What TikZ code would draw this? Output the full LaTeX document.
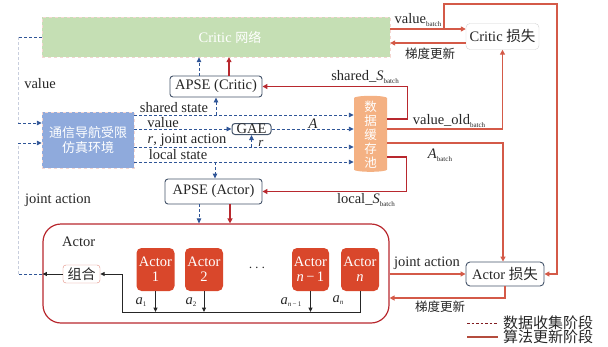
\documentclass[tikz,border=0pt]{standalone}
\usepackage{fontspec}
\setmainfont{Liberation Serif}
\newfontfamily\cjk{Noto Sans CJK SC}
\usetikzlibrary{shapes.geometric,arrows.meta,calc}
\definecolor{bl}{HTML}{2F5597}
\definecolor{faint}{HTML}{C8CEDD}
\definecolor{rA}{HTML}{B8282E}
\definecolor{rB}{HTML}{D45A48}
\definecolor{grn}{HTML}{C5DFB4}
\definecolor{envc}{HTML}{8FAADC}
\definecolor{poolc}{HTML}{F4B183}
\definecolor{actc}{HTML}{D9472B}
\definecolor{slate}{HTML}{44546A}
\newcommand\bsub[1]{\raisebox{-2.5pt}{\fontsize{7}{7}\selectfont #1}}
\begin{document}
\begin{tikzpicture}[x=1pt,y=-1pt,
  every node/.style={font=\fontsize{14.5}{16}\selectfont, inner sep=0pt, text=black!85},
  bdash/.style={draw=bl, line width=0.9pt, dash pattern=on 3pt off 2pt},
  barrow/.style={bdash, -{Triangle[length=5pt,width=4.5pt]}},
  fdash/.style={draw=faint, line width=0.9pt, dash pattern=on 3pt off 2pt},
  redl/.style={draw=rA, line width=1.3pt, -{Triangle[length=5pt,width=5pt]}},
  redm/.style={draw=rB, line width=1.3pt, -{Triangle[length=5pt,width=5pt]}},
  blk/.style={draw=black!85, line width=1pt, -{Triangle[length=4.5pt,width=4pt]}},
  apse/.style={draw=slate, line width=0.9pt, rounded corners=3pt, fill=white},
  actn/.style={fill=actc, rounded corners=5pt, text=white, align=center, minimum width=38pt, minimum height=43pt, font=\fontsize{14.5}{15}\selectfont},
  lossbox/.style={rounded corners=4pt, fill=white, minimum height=26pt},
  zh/.style={font=\cjk\fontsize{12.5}{13}\selectfont},
]
\useasboundingbox (0,0) rectangle (608,346);

% main boxes
\node[fill=grn, draw=rB!25, dashed, minimum width=348pt, minimum height=40pt, text=white] (cn) at (216,37) {\hspace*{28pt}Critic {\cjk\fontsize{13}{14}\selectfont 网络}};
\node[apse, minimum width=92pt, minimum height=21pt] (apsec) at (216,86.5) {APSE (Critic)};
\node[fill=envc, draw=rB!25, dashed, minimum width=92pt, minimum height=56pt, text=white, align=center, font=\cjk\fontsize{13}{14.5}\selectfont] (env) at (88,140) {通信导航受限\\仿真环境};
\node[apse, minimum width=39pt, minimum height=11pt, inner sep=0.5pt, line width=1pt] (gae) at (251.5,129) {GAE};
\node[cylinder, shape border rotate=90, aspect=0.35, fill=poolc, minimum width=33pt, minimum height=76pt, text=white, align=center, font=\cjk\fontsize{12.5}{14}\selectfont] (pool) at (370.5,135) {数\\据\\缓\\存\\池};
\node[lossbox, draw=gray!35, minimum width=73pt] (cl) at (502.5,36.5) {Critic {\cjk 损失}};
\node[lossbox, draw=slate, line width=0.9pt, minimum width=78pt, minimum height=24pt] (al) at (505,274) {Actor {\cjk 损失}};
\node[apse, minimum width=97pt, minimum height=25pt] (apsea) at (213.5,191.5) {APSE (Actor)};
\node[draw=rA, line width=1.2pt, rounded corners=18pt, minimum width=346pt, minimum height=99pt] (ab) at (216,273.5) {};
\node[anchor=west] (ablbl) at (62,242) {Actor};
\node[actn] (a1) at (155.5,269.5) {Actor\\1};
\node[actn] (a2) at (204,269.5) {Actor\\2};
\node[actn, minimum width=37pt] (an1) at (310.5,269.5) {Actor\\\textit{n}\,−\,1};
\node[actn] (an) at (360,269.5) {Actor\\\textit{n}};
\node (dots) at (257,268) {$\cdots$};
\node[draw=rB!70, fill=white, rounded corners=3pt, minimum width=37pt, minimum height=18pt, font=\cjk\fontsize{14}{15}\selectfont] (zhnode) at (81.5,274) {组合};

% left feedback lines
\coordinate (lv1) at (18,37); \coordinate (lv2) at (18,123);
\draw[bdash] (cn.west) -- (lv1);
\draw[fdash] (lv1) -- (lv2);
\draw[barrow] (lv2) -- (env.west |- lv2);
\coordinate (lj1) at (18,274); \coordinate (lj2) at (18,143);
\draw[blk] (zhnode.west) -- (ab.west |- zhnode.west);
\draw[bdash] (ab.west |- zhnode.west) -- (lj1);
\draw[fdash] (lj1) -- (lj2);
\draw[barrow] (lj2) -- (env.west |- lj2);

% env to pool
\draw[barrow] (env.east |- 0,115) -- (pool.west |- 0,115);
\draw[barrow] (apsec.south |- 0,115) -- (apsec.south);
\draw[barrow] (env.east |- gae.west) -- (gae.west);
\draw[barrow] (gae.east) -- (pool.west |- gae.east);
\draw[barrow] (env.east |- 0,147) -- (pool.west |- 0,147);
\draw[barrow] (gae.south |- 0,147) -- (gae.south);
\draw[barrow] (env.east |- 0,162) -- (pool.west |- 0,162);
\coordinate (ls) at (215,162);
\draw[barrow] (ls) -- (apsea.north -| ls);

% APSE outputs
\draw[barrow] ([xshift=-17pt]apsec.north) -- ([xshift=-17pt]apsec.north |- cn.south);
\draw[redl] ([xshift=13pt]apsec.north) -- ([xshift=13pt]apsec.north |- cn.south);
\draw[barrow] ([xshift=-14.5pt]apsea.south) -- ([xshift=-14.5pt]apsea.south |- ab.north);
\draw[redl] ([xshift=16.5pt]apsea.south) -- ([xshift=16.5pt]apsea.south |- ab.north);

% red from pool
\draw[redl] (pool.east |- 0,119) -- ++(20,0) |- (apsec.east);
\draw[redm] (pool.east |- 0,129) -| (cl.south);
\draw[redm] (pool.east |- 0,143) -| ([xshift=-2pt]al.north);
\draw[redl] (pool.east |- 0,157) -- ++(19,0) |- (apsea.east);
\draw[redm] (cn.east |- 0,29) -- (cl.west |- 0,29);
\coordinate (br) at (444,29);
\draw[redm] (br) |- (557,4) |- (al.east);
\draw[redm] (cl.west |- 0,43) -- (cn.east |- 0,43);
\draw[redm] (ab.east |- al.west) -- (al.west);
\draw[redm] (al.south) |- (ab.east |- 0,298);

% black bus
\draw[blk] (a1.south) -- (a1.south |- 0,312);
\draw[blk] (a2.south) -- (a2.south |- 0,312);
\draw[blk] (an1.south) -- (an1.south |- 0,312);
\draw[blk] (an.south) |- (122,312) |- (zhnode.east);

% labels
\node (t1) at (418,20) {value\bsub{batch}};
\node[zh] (t2) at (430,54) {梯度更新};
\node (t3) at (365,77) {shared\_\textit{S}\bsub{batch}};
\node (t4) at (449,121) {value\_old\bsub{batch}};
\node (t5) at (440,155) {\textit{A}\bsub{batch}};
\node (t6) at (366,200) {local\_\textit{S}\bsub{batch}};
\node (t7) at (427,263) {joint action};
\node[zh] (t8) at (440,307) {梯度更新};
\node (t9) at (40,84) {value};
\node (t10) at (58,200) {joint action};
\node (t11) at (174,108) {shared state};
\node (t12) at (163,123) {value};
\node (t13) at (187,140) {\textit{r}, joint action};
\node (t14) at (178,155) {local state};
\node (t15) at (313,124) {\textit{A}};
\node[font=\fontsize{13}{13}\selectfont] (t16) at (261,143) {\textit{r}};
\node (t17) at (141,302) {\textit{a}\bsub{1}};
\node (t18) at (191,302) {\textit{a}\bsub{2}};
\node (t19) at (291,302) {\textit{a}\bsub{\textit{n}\,−\,1}};
\node (t20) at (338,300) {\textit{a}\bsub{\textit{n}}};

% legend
\coordinate (lg1a) at (467,323); \coordinate (lg1b) at (498,323);
\coordinate (lg2a) at (467,337); \coordinate (lg2b) at (498,337);
\draw[draw=rA!70!black, line width=0.8pt, dash pattern=on 2.5pt off 2pt] (lg1a) -- (lg1b);
\draw[draw=rB!85!black, line width=1.5pt] (lg2a) -- (lg2b);
\node[anchor=west, font=\cjk\fontsize{15}{16}\selectfont] (lg1) at ([xshift=5pt]lg1b) {数据收集阶段};
\node[anchor=west, font=\cjk\fontsize{15}{16}\selectfont] (lg2) at ([xshift=5pt]lg2b) {算法更新阶段};
\end{tikzpicture}
\end{document}
